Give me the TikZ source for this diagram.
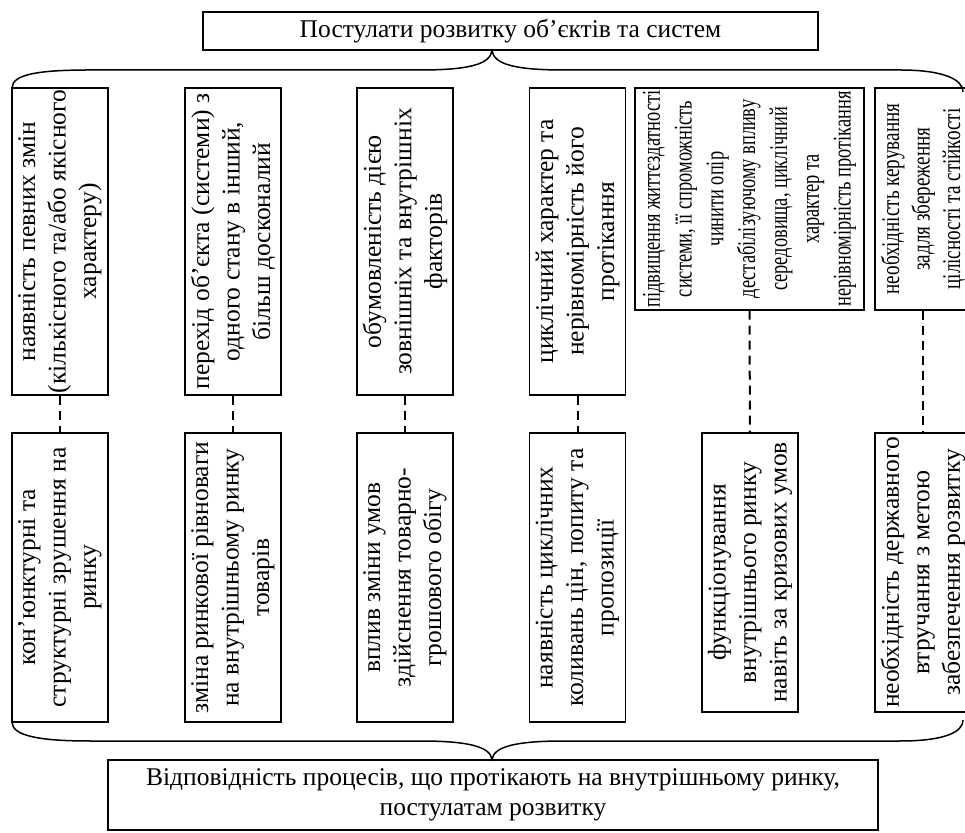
\documentclass[tikz,border=0pt]{standalone}
\usepackage{fontspec}
\setmainfont{Liberation Serif}
\newfontfamily\narrowserif[FakeStretch=0.72]{Liberation Serif}
\newfontfamily\halfnarrowserif[FakeStretch=0.75]{Liberation Serif}
\usepackage{tikz}
\tikzstyle{postbox} = [draw, line width=1.3pt, rotate=90, inner sep=0pt, align=center, font=\fontsize{25.5}{30.5}\selectfont]
\tikzstyle{narrowbox} = [postbox, font=\narrowserif\fontsize{25.5}{31.8}\selectfont]
\tikzstyle{flatbox} = [draw, line width=1.3pt, inner sep=0pt, align=center, font=\fontsize{25.5}{30.5}\selectfont]
\tikzstyle{linkdash} = [line width=2pt, dash pattern=on 9pt off 6pt]
\tikzstyle{bracel} = [line width=1.5pt]

\begin{document}
\begin{tikzpicture}[x=1pt, y=1pt]
                \useasboundingbox (0,0) rectangle (965,832);

                \node[flatbox, minimum width=615pt, minimum height=38pt] (title) at (510.5,801) {Постулати розвитку об’єктів та систем};

                \node[postbox, minimum width=307pt, minimum height=96pt] (up1) at (60,590.5) {наявність певних змін\\(кількісного та/або якісного\\характеру)};
                \node[postbox, minimum width=307pt, minimum height=96pt] (up2) at (233,590.5) {перехід об’єкта (системи) з\\одного стану в інший,\\більш досконалий};
                \node[postbox, minimum width=307pt, minimum height=96pt] (up3) at (405,590.5) {обумовленість дією\\зовнішніх та внутрішніх\\факторів};
                \node[postbox, minimum width=307pt, minimum height=96pt] (up4) at (577.5,590.5) {циклічний характер та\\нерівномірність його\\протікання};
                \node[narrowbox, minimum width=222pt, minimum height=229pt] (up5) at (749.5,633) {підвищення життєздатності\\системи, її спроможність\\чинити опір\\дестабілізуючому впливу\\середовища, циклічний\\характер та\\нерівномірність протікання};
                \node[narrowbox, minimum width=222pt, minimum height=96pt, font=\halfnarrowserif\fontsize{25.5}{30.5}\selectfont] (up6) at (923,633) {необхідність керування\\задля збереження\\цілісності та стійкості};

                \node[postbox, minimum width=289pt, minimum height=96pt] (low1) at (60,254.5) {кон’юнктурні та\\структурні зрушення на\\ринку};
                \node[postbox, minimum width=289pt, minimum height=96pt] (low2) at (233,254.5) {зміна ринкової рівноваги\\на внутрішньому ринку\\товарів};
                \node[postbox, minimum width=289pt, minimum height=96pt] (low3) at (405,254.5) {вплив зміни умов\\здійснення товарно-\\грошового обігу};
                \node[postbox, minimum width=289pt, minimum height=96pt] (low4) at (577.5,254.5) {наявність циклічних\\коливань цін, попиту та\\пропозиції};
                \node[postbox, minimum width=279pt, minimum height=96pt] (low5) at (750,259.5) {функціонування\\внутрішнього ринку\\навіть за кризових умов};
                \node[postbox, minimum width=279pt, minimum height=96pt] (low6) at (923,259.5) {необхідність державного\\втручання з метою\\забезпечення розвитку};

                \node[flatbox, minimum width=770pt, minimum height=70pt] (result) at (493,37) {Відповідність процесів, що протікають на внутрішньому ринку,\\постулатам розвитку};

                \foreach \i in {1,...,6} {
                    \draw[linkdash] (up\i) -- (low\i);
                }

                \coordinate (toptip) at (title.south -| 492,0);
                \coordinate (bottip) at (result.north -| 492,0);
                \draw[bracel] (12,744) .. controls (12,758) and (40,762) .. (90,762) -- (420,762) .. controls (470,762) and (490,768) .. (toptip) .. controls (494,768) and (514,762) .. (564,762) -- (900,762) .. controls (945,762) and (963,752) .. (963,740);
                \draw[bracel] (12,110) .. controls (12,96) and (40,91) .. (90,91) -- (420,91) .. controls (470,91) and (490,85) .. (bottip) .. controls (494,85) and (514,91) .. (564,91) -- (900,91) .. controls (945,91) and (963,100) .. (963,112);
            \end{tikzpicture}
\end{document}
